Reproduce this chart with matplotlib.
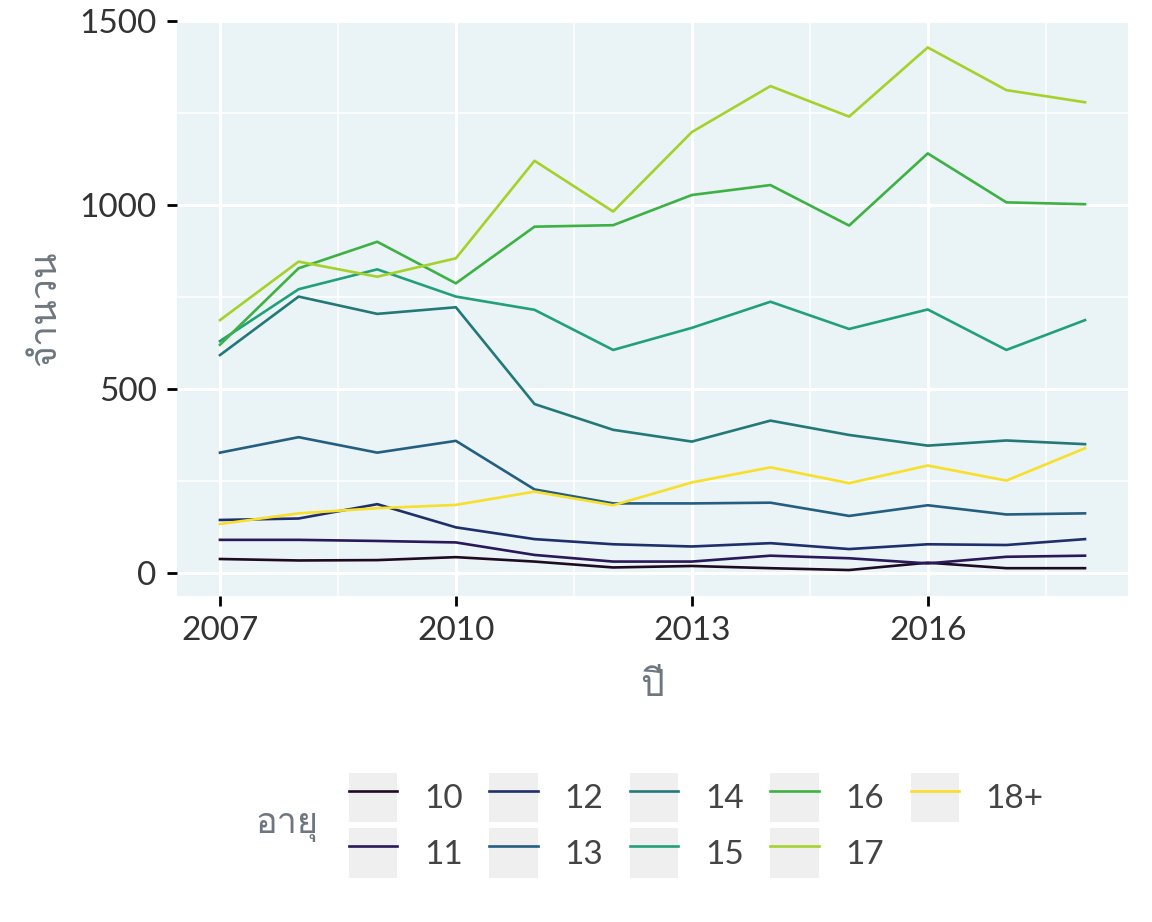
import matplotlib
matplotlib.use('Agg')
import matplotlib.pyplot as plt
from matplotlib import font_manager
from matplotlib.ft2font import FT2Font
from matplotlib.lines import Line2D
from matplotlib.patches import Rectangle
from matplotlib.legend_handler import HandlerTuple
from matplotlib.ticker import MultipleLocator

# data
years = [2007, 2008, 2009, 2010, 2011, 2012, 2013, 2014, 2015, 2016, 2017, 2018]
age_10 = [38, 34, 35, 43, 31, 15, 19, 13, 8, 28, 13, 13]
age_11 = [90, 90, 87, 83, 49, 31, 31, 47, 40, 26, 44, 47]
age_12 = [144, 148, 187, 124, 92, 78, 72, 81, 65, 78, 76, 92]
age_13 = [327, 369, 327, 359, 227, 189, 189, 191, 155, 184, 159, 162]
age_14 = [592, 751, 704, 722, 459, 389, 357, 414, 375, 346, 360, 350]
age_15 = [630, 771, 825, 751, 715, 606, 666, 737, 663, 716, 606, 687]
age_16 = [620, 828, 900, 787, 941, 945, 1027, 1054, 944, 1140, 1007, 1002]
age_17 = [687, 846, 805, 855, 1120, 982, 1198, 1323, 1240, 1428, 1312, 1279]
age_18 = [133, 162, 176, 185, 221, 184, 246, 287, 244, 292, 251, 339]

labels = ['10', '11', '12', '13', '14', '15', '16', '17', '18+']
series = [age_10, age_11, age_12, age_13, age_14, age_15, age_16, age_17, age_18]
colors = ['#1E0B22', '#2A1858', '#1F2F6C', '#245E80', '#237878',
          '#22A07A', '#3DB143', '#A5D12B', '#F7DF2A']

# find an installed font that has Thai glyphs
thai_family = None
for f in font_manager.fontManager.ttflist:
    try:
        if 0x0E08 in FT2Font(f.fname).get_charmap():
            thai_family = f.name
            break
    except Exception:
        pass

families = ['Lato', 'DejaVu Sans']
if thai_family:
    families = ['Lato', thai_family, 'DejaVu Sans']
plt.rcParams['font.family'] = families

fig = plt.figure(figsize=(11.52, 9.22), dpi=100)
ax = fig.add_axes([0.1534, 0.3538, 0.826, 0.6243])
ax.set_facecolor('#EAF3F6')

for vals, lab, col in zip(series, labels, colors):
    ax.plot(years, vals, color=col, lw=1.9, label=lab)

ax.set_xticks([2007, 2010, 2013, 2016])
ax.set_yticks([0, 500, 1000, 1500])
ax.xaxis.set_minor_locator(MultipleLocator(1.5))
ax.yaxis.set_minor_locator(MultipleLocator(250))
ax.set_xlim(2006.45, 2018.55)
ax.set_ylim(-62, 1502)

ax.grid(which='major', color='white', lw=2.2)
ax.grid(which='minor', color='white', lw=1.1)
ax.set_axisbelow(True)
for s in ax.spines.values():
    s.set_visible(False)
ax.tick_params(which='major', length=7.5, width=2, color='black',
               labelsize=24, labelcolor='#333333', pad=7)
ax.tick_params(which='minor', length=0)

ax.set_xlabel('ปี', fontsize=27, color='#6E7680', labelpad=15)
ax.set_ylabel('จำนวน', fontsize=27, color='#6E7680', labelpad=12)

# legend with grey key boxes
handles = []
for col in colors:
    box = Rectangle((0, 0), 1, 1, facecolor='#EFEFEF', edgecolor='none')
    ln = Line2D([], [], color=col, lw=1.9)
    handles.append((box, ln))
fig.legend(handles, labels, handler_map={tuple: HandlerTuple(ndivide=1, pad=0)},
           loc='upper left', bbox_to_anchor=(349 / 1152, 1 - 773 / 922), ncol=5,
           frameon=False, fontsize=24, labelcolor='#444444',
           handlelength=1.45, handleheight=1.9, labelspacing=0.18,
           handletextpad=0.8, columnspacing=0.8, borderpad=0, borderaxespad=0)
fig.text(255 / 1152, 1 - 825 / 922, 'อายุ', fontsize=26, color='#6E7680',
         va='center', ha='left')

fig.savefig('out.png', dpi=100)
